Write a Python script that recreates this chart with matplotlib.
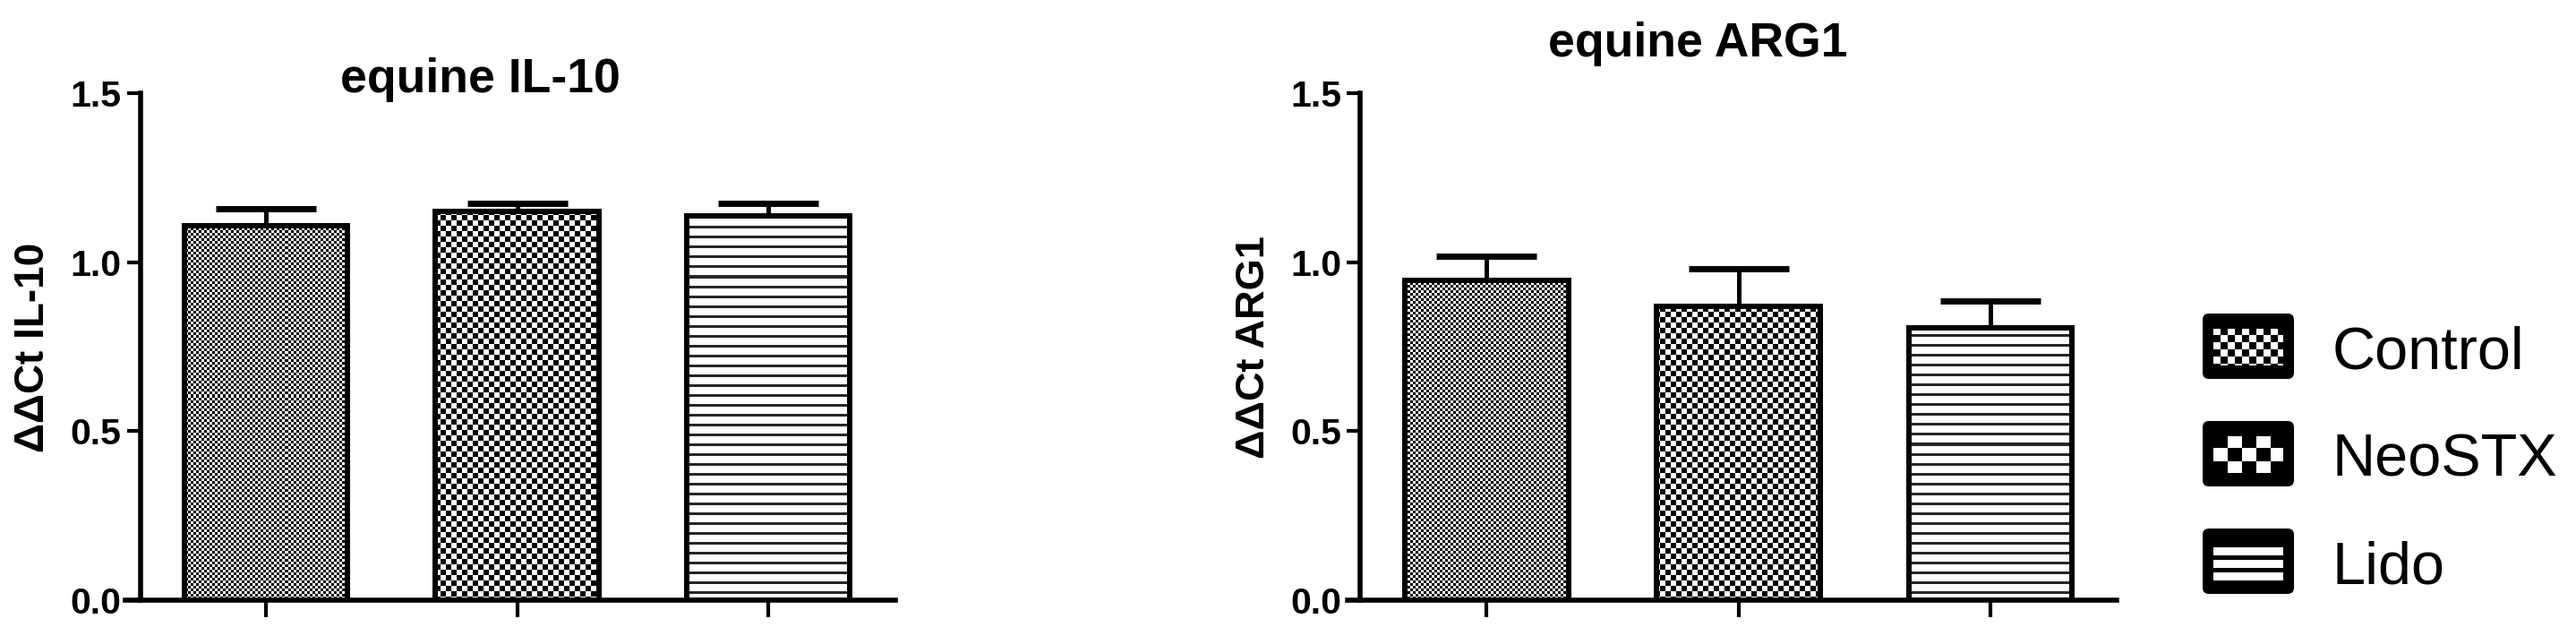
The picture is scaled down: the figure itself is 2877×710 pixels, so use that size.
import numpy as np
import matplotlib
matplotlib.use("Agg")
import matplotlib.pyplot as plt
from matplotlib import font_manager
from matplotlib.patches import FancyBboxPatch, Rectangle

# data (mean and upper SEM)
groups = ["Control", "NeoSTX", "Lido"]
il10_mean = [1.108, 1.150, 1.138]
il10_sem = [0.050, 0.025, 0.035]
arg1_mean = [0.945, 0.868, 0.806]
arg1_sem = [0.072, 0.112, 0.078]
yticks = [0.0, 0.5, 1.0, 1.5]
ytick_labels = ["0.0", "0.5", "1.0", "1.5"]

W, H, DPI = 2877, 710, 100
BOLD = "Liberation Sans"
names = {f.name for f in font_manager.fontManager.ttflist}
NARROW = "Liberation Sans Narrow" if "Liberation Sans Narrow" in names else "Liberation Sans"
leg_size = 59 if NARROW == "Liberation Sans Narrow" else 48

fig = plt.figure(figsize=(W / DPI, H / DPI), dpi=DPI)


# textures in figure pixel coords (X from left, Y from top), 1 = white
def tex_control(X, Y):
    return ((X // 3 + Y // 3) % 2).astype(float)

def tex_neo(X, Y):
    return ((X // 6 + Y // 6) % 2).astype(float)

def tex_lido(X, Y):
    return np.where(Y % 11 < 3, 0.15, 1.0)

def leg_control(X, Y):
    return ((X // 8 + Y // 8) % 2).astype(float)

def leg_neo(X, Y):
    return (((X + 8) // 16 + Y // 15) % 2).astype(float)

def leg_lido(X, Y):
    return np.where((Y - 7) % 14 < 9, 1.0, 0.0)


def fill_texture(ax, patch, func, zorder):
    bb = patch.get_window_extent()
    px0, px1 = int(np.floor(bb.x0)), int(np.ceil(bb.x1))
    py0, py1 = int(np.floor(bb.y0)), int(np.ceil(bb.y1))
    xs = np.arange(px0, px1)
    ys = H - np.arange(py1, py0, -1)
    X, Y = np.meshgrid(xs, ys)
    img = func(X, Y)
    inv = ax.transData.inverted()
    dx0, dy0 = inv.transform((px0, py0))
    dx1, dy1 = inv.transform((px1, py1))
    xl, yl = ax.get_xlim(), ax.get_ylim()
    im = ax.imshow(img, extent=(dx0, dx1, dy0, dy1), origin="upper", cmap="gray",
                   vmin=0, vmax=1, interpolation="nearest", aspect="auto", zorder=zorder)
    im.set_clip_path(patch)
    ax.set_xlim(xl)
    ax.set_ylim(yl)


textures = [tex_control, tex_neo, tex_lido]


def panel(rect, xlim, means, sems, title, title_xy, ylabel, ylabel_x, ylabel_size):
    ax = fig.add_axes(rect)
    ax.set_xlim(xlim)
    ax.set_ylim(0, 1.5)
    x = np.arange(len(groups))
    faces = ax.bar(x, means, width=0.65, color="white", edgecolor="none", zorder=1)
    for b, t in zip(faces, textures):
        fill_texture(ax, b, t, 2)
    ax.bar(x, means, width=0.65, facecolor="none", edgecolor="black", linewidth=4.3, zorder=3)
    ax.errorbar(x, means, yerr=[np.zeros(len(sems)), sems], fmt="none", ecolor="black",
                elinewidth=3.6, capsize=40, capthick=5, zorder=0.5)
    for s in ["top", "right"]:
        ax.spines[s].set_visible(False)
    ax.spines["left"].set_position(("data", -0.5))
    for s in ["left", "bottom"]:
        ax.spines[s].set_linewidth(4)
    ax.set_xticks(x)
    ax.set_xticklabels([])
    ax.tick_params(axis="x", direction="out", length=14, width=3)
    ax.set_yticks(yticks)
    ax.set_yticklabels(ytick_labels, fontsize=29.5, fontweight="bold", family=BOLD)
    ax.tick_params(axis="y", direction="out", length=11, width=3, pad=4.3)
    ax.text(title_xy[0], title_xy[1], title, transform=ax.transAxes, ha="center",
            va="baseline", fontsize=38.5, fontweight="bold", family=BOLD)
    fig.text(ylabel_x / W, 1 - 388 / H, ylabel, rotation=90, ha="center", va="center",
             fontsize=ylabel_size, fontweight="bold", family=BOLD)
    return ax


panel([140 / W, 40 / H, 860 / W, 566 / H], (-0.56, 2.506), il10_mean, il10_sem,
      "equine IL-10", (0.4605, 1.002), "\u0394\u0394Ct IL-10", 37, 33)
panel([1505 / W, 40 / H, 859 / W, 566 / H], (-0.551, 2.501), arg1_mean, arg1_sem,
      "equine ARG1", (0.456, 1.0724), "\u0394\u0394Ct ARG1", 1400, 32.5)

# legend drawn in figure pixel coordinates
lax = fig.add_axes([0, 0, 1, 1])
lax.set_xlim(0, W)
lax.set_ylim(H, 0)
lax.axis("off")
leg_textures = [leg_control, leg_neo, leg_lido]
for i, (name, t) in enumerate(zip(groups, leg_textures)):
    top = 350 + 120 * i
    box = FancyBboxPatch((2460, top), 102, 73, boxstyle="round,pad=0,rounding_size=7",
                         facecolor="black", edgecolor="none", zorder=1)
    lax.add_patch(box)
    inner = Rectangle((2472, top + 17), 78, 41, facecolor="white", edgecolor="none", zorder=2)
    lax.add_patch(inner)
    fill_texture(lax, inner, lambda X, Y, t=t, top=top: t(X, Y - top), 3)
    lax.text(2605, top + 62, name, ha="left", va="baseline", fontsize=leg_size, family=NARROW)

fig.savefig("out.png", dpi=DPI, facecolor="white")
